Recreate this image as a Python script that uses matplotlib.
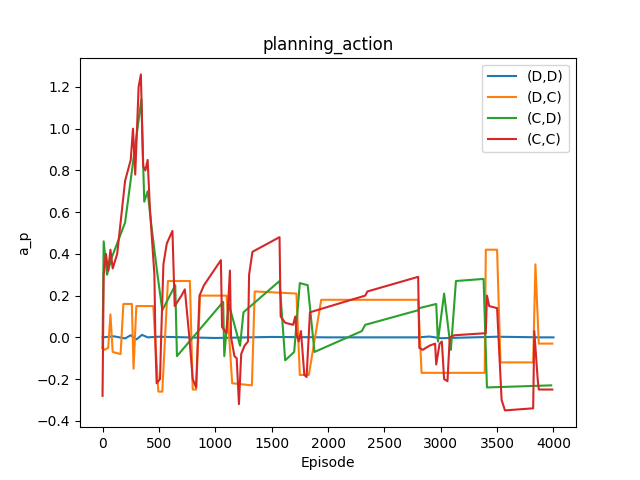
import matplotlib
matplotlib.use("Agg")
import matplotlib.pyplot as plt

# (D,D) - stays near zero
dd_x = [0, 100, 200, 250, 300, 350, 400, 500, 1000, 1500, 2000, 2800, 2900, 3000, 3500, 3900, 4000]
dd_y = [0.0, 0.005, -0.005, 0.01, -0.01, 0.012, 0.0, 0.003, -0.003, 0.002, 0.0, 0.0, 0.004, -0.004, 0.003, 0.0, 0.0]

# (D,C)
dc_x = [0, 20, 50, 70, 90, 160, 185, 260, 275, 300, 450, 495, 530, 580, 775, 800, 830, 865,
        1100, 1150, 1325, 1350, 1720, 1750, 1830, 1940, 2800, 2830, 3390, 3400, 3500, 3530,
        3820, 3840, 3870, 3990]
dc_y = [-0.05, -0.06, -0.05, 0.11, -0.07, -0.08, 0.16, 0.16, -0.15, 0.15, 0.15, -0.26, -0.26, 0.27,
        0.27, -0.25, -0.25, 0.2, 0.2, -0.22, -0.23, 0.22, 0.21, -0.18, -0.18, 0.18, 0.18, -0.17,
        -0.17, 0.42, 0.42, -0.12, -0.12, 0.35, -0.03, -0.03]

# (C,D)
cd_x = [0, 10, 40, 80, 200, 344, 370, 400, 430, 485, 530, 645, 660, 1070, 1080, 1120, 1220, 1250,
        1570, 1620, 1700, 1750, 1820, 1880, 2300, 2330, 2800, 2810, 2960, 2975, 3030, 3090, 3135,
        3380, 3410, 3980]
cd_y = [-0.05, 0.46, 0.3, 0.38, 0.55, 1.14, 0.65, 0.7, 0.55, 0.31, 0.13, 0.25, -0.09, 0.17, -0.09,
        0.16, -0.04, 0.12, 0.27, -0.11, -0.07, 0.26, 0.25, -0.07, 0.03, 0.06, 0.13, 0.14, 0.16, -0.02,
        0.21, -0.06, 0.27, 0.28, -0.24, -0.23]

# (C,C)
cc_x = [0, 10, 30, 50, 70, 90, 130, 200, 250, 270, 290, 320, 340, 360, 380, 400, 420, 460, 470, 480,
        510, 520, 540, 570, 620, 640, 700, 730, 770, 800, 830, 860, 900, 1050, 1060, 1100, 1130, 1140,
        1170, 1190, 1210, 1230, 1260, 1290, 1300, 1330, 1570, 1580, 1620, 1690, 1710, 1720, 1740,
        1760, 1790, 1810, 1840, 1900, 2330, 2350, 2800, 2810, 2840, 2900, 2950, 2960, 2990, 3010,
        3030, 3060, 3080, 3120, 3400, 3410, 3430, 3500, 3540, 3570, 3820, 3830, 3860, 3870, 3990]
cc_y = [-0.28, 0.3, 0.4, 0.32, 0.42, 0.33, 0.4, 0.75, 0.85, 1.0, 0.78, 1.2, 1.26, 0.82, 0.8, 0.85,
        0.62, 0.3, -0.05, -0.22, -0.2, 0.0, 0.35, 0.45, 0.51, 0.15, 0.2, 0.23, 0.0, -0.2, -0.24, 0.2,
        0.25, 0.37, 0.05, 0.02, 0.32, 0.0, -0.09, -0.1, -0.32, -0.08, -0.04, -0.02, 0.3, 0.41, 0.48,
        0.1, 0.07, 0.06, 0.1, 0.02, -0.02, 0.03, -0.18, -0.19, 0.12, 0.13, 0.2, 0.22, 0.29, -0.05,
        -0.06, -0.04, -0.03, -0.13, -0.03, -0.02, -0.2, -0.21, 0.0, 0.01, 0.02, 0.2, 0.15, 0.14, -0.3,
        -0.35, -0.34, 0.03, -0.2, -0.25, -0.25]

fig, ax = plt.subplots(figsize=(6.4, 4.8), dpi=100)
ax.plot(dd_x, dd_y, label="(D,D)")
ax.plot(dc_x, dc_y, label="(D,C)")
ax.plot(cd_x, cd_y, label="(C,D)")
ax.plot(cc_x, cc_y, label="(C,C)")
ax.set_xlabel("Episode")
ax.set_ylabel("a_p")
ax.set_title("planning_action")
ax.legend(loc="upper right")
fig.savefig("out.png")
